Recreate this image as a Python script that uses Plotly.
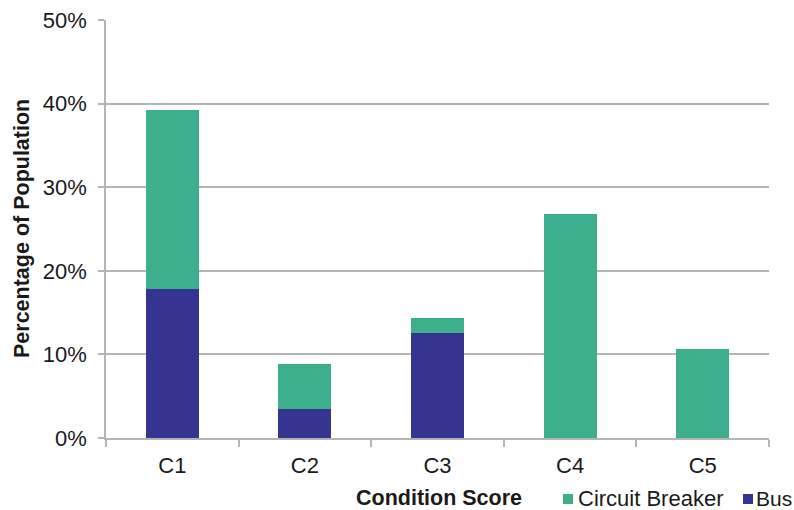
import plotly.graph_objects as go

categories = ["C1", "C2", "C3", "C4", "C5"]
bus = [17.8, 3.5, 12.55, 0, 0]
circuit_breaker = [21.4, 5.35, 1.8, 26.8, 10.7]
y_ticks = [0, 10, 20, 30, 40, 50]
y_tick_labels = ["0%", "10%", "20%", "30%", "40%", "50%"]

FONT = "Liberation Sans, Arial, sans-serif"
GREEN = "#3DAF8C"
BLUE = "#353591"
GRID = "#B4B4B4"
TXT = "#1a1a1a"

# plot area geometry (pixels)
L, R, T, B = 106, 25, 20, 72
W, H = 794, 510
PW, PH = W - L - R, H - T - B


def px(x):
    return (x - L) / PW


def py(y):
    return (H - B - y) / PH


fig = go.Figure()
fig.add_trace(go.Bar(x=categories, y=bus, name="Bus", showlegend=False,
                     marker=dict(color=BLUE, line=dict(width=0))))
fig.add_trace(go.Bar(x=categories, y=circuit_breaker, name="Circuit Breaker", showlegend=False,
                     marker=dict(color=GREEN, line=dict(width=0))))

annotations = [
    dict(text="<b>Condition Score</b>", x=px(439), y=py(498), xanchor="center", yanchor="middle", size=21.5),
    dict(text="<b>Percentage of Population</b>", x=px(22), y=py(229), xanchor="center",
         yanchor="middle", textangle=-90, size=21.5),
    dict(text="Circuit Breaker", x=px(576), y=py(498), xanchor="left", yanchor="middle", size=22),
    dict(text="Bus", x=px(754), y=py(498), xanchor="left", yanchor="middle", size=21),
]
for a in annotations:
    size = a.pop("size")
    a.update(xref="paper", yref="paper", showarrow=False,
             font=dict(size=size, family=FONT, color=TXT))

shapes = [
    dict(type="rect", xref="paper", yref="paper", x0=px(563), x1=px(573), y0=py(504), y1=py(494),
         fillcolor=GREEN, line=dict(width=0)),
    dict(type="rect", xref="paper", yref="paper", x0=px(743), x1=px(753), y0=py(504), y1=py(494),
         fillcolor=BLUE, line=dict(width=0)),
]

fig.update_layout(
    barmode="stack",
    bargap=0.6,
    width=W, height=H,
    margin=dict(l=L, r=R, t=T, b=B, autoexpand=False),
    paper_bgcolor="white", plot_bgcolor="white",
    font=dict(family=FONT, size=22, color=TXT),
    showlegend=False,
    annotations=annotations,
    shapes=shapes,
)
fig.update_xaxes(
    type="category", tickson="boundaries", ticks="outside", ticklen=7, tickcolor=GRID,
    tickwidth=1.5, showline=True, linecolor=GRID, linewidth=1.5, showgrid=False,
    tickfont=dict(size=22, family=FONT, color=TXT), automargin=False, ticklabelstandoff=7,
)
fig.update_yaxes(
    range=[0, 50], tickvals=y_ticks, ticktext=y_tick_labels,
    ticks="outside", ticklen=6, tickcolor=GRID, tickwidth=1.5,
    showline=True, linecolor=GRID, linewidth=1.5,
    showgrid=True, gridcolor=GRID, gridwidth=1.5, zeroline=False,
    tickfont=dict(size=22, family=FONT, color=TXT), automargin=False, ticklabelstandoff=7,
)

fig.write_html("out.html", config={"displayModeBar": False},
               post_script="document.body.style.margin='0';")
